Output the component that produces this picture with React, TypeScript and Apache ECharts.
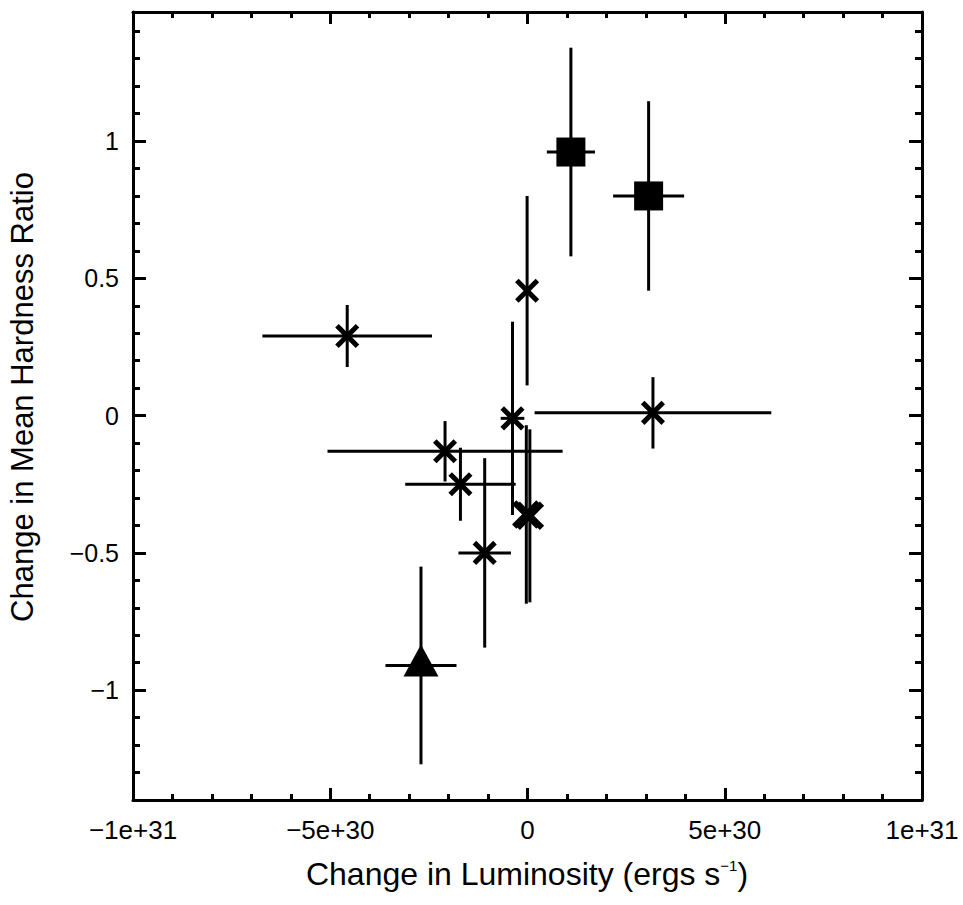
import React, { useEffect, useRef } from "react";
import * as echarts from "echarts";

// ---- data ----
const xValues = [1.1e30, 3.07e30, -0.01e30, -4.57e30, 3.18e30, -0.38e30, -2.09e30, -1.7e30, -1.085e30, -0.03e30, 0.06e30, -2.7e30];
const yValues = [0.96, 0.8, 0.455, 0.29, 0.01, -0.01, -0.13, -0.25, -0.5, -0.36, -0.365, -0.91];
const xErrors = [0.61e30, 0.9e30, 0, 2.15e30, 3.0e30, 0.3e30, 2.98e30, 1.4e30, 0.665e30, 0, 0, 0.9e30];
const yErrors = [0.38, 0.345, 0.345, 0.113, 0.13, 0.352, 0.11, 0.133, 0.345, 0.325, 0.315, 0.36];
const markerKinds = ["square", "square", "cross", "cross", "cross", "cross", "cross", "cross", "cross", "bigcross", "bigcross", "triangle"];

const xTickValues = [-1e31, -5e30, 0, 5e30, 1e31];
const xTickLabels = ["\u22121e+31", "\u22125e+30", "0", "5e+30", "1e+31"];
const yTickValues = [-1, -0.5, 0, 0.5, 1];
const yTickLabels = ["\u22121", "\u22120.5", "0", "0.5", "1"];

const X_MIN = -1e31;
const X_MAX = 1e31;
const Y_MIN = -1.4;
const Y_MAX = 1.47;

const FONT = "'Liberation Sans', Arial, Helvetica, sans-serif";

export default function App() {
  const ref = useRef<HTMLDivElement>(null);

  useEffect(() => {
    if (!ref.current) return;
    const chart = echarts.init(ref.current, null, { renderer: "svg" });

    const lineStyle = { color: "#000", width: 3 };

    const xFormatter = (v: number) => {
      const i = xTickValues.findIndex((t) => Math.abs(t - v) < 1e27);
      return i >= 0 ? xTickLabels[i] : "";
    };
    const yFormatter = (v: number) => {
      const i = yTickValues.findIndex((t) => Math.abs(t - v) < 1e-6);
      return i >= 0 ? yTickLabels[i] : "";
    };

    const xAxisBase = (position: "bottom" | "top", showLabel: boolean) => ({
      type: "value",
      position,
      min: X_MIN,
      max: X_MAX,
      interval: 5e30,
      axisLine: { show: true, onZero: false, lineStyle },
      axisTick: { show: true, inside: true, length: 12, lineStyle },
      minorTick: { show: true, splitNumber: 5, length: 6, lineStyle },
      splitLine: { show: false },
      minorSplitLine: { show: false },
      axisLabel: {
        show: showLabel,
        formatter: xFormatter,
        fontSize: 26,
        fontFamily: FONT,
        color: "#000",
        margin: 17,
      },
    });

    const yMinorAxis = (position: "left" | "right") => ({
      type: "value",
      position,
      min: Y_MIN,
      max: Y_MAX,
      interval: 0.1,
      axisLine: { show: true, onZero: false, lineStyle },
      axisTick: { show: true, inside: true, length: 7, lineStyle },
      axisLabel: { show: false },
      splitLine: { show: false },
    });

    const yMajorAxis = (position: "left" | "right", showLabel: boolean) => ({
      type: "value",
      position,
      min: Y_MIN,
      max: Y_MAX,
      axisLine: { show: false, onZero: false },
      axisTick: { show: true, inside: true, length: 13, lineStyle, customValues: yTickValues },
      axisLabel: {
        show: showLabel,
        customValues: yTickValues,
        formatter: yFormatter,
        fontSize: 25,
        fontFamily: FONT,
        color: "#000",
        margin: 14,
      },
      splitLine: { show: false },
    });

    const data = xValues.map((x, i) => [x, yValues[i], xErrors[i], yErrors[i]]);

    const renderItem = (params: any, api: any) => {
      const x = api.value(0);
      const y = api.value(1);
      const xe = api.value(2);
      const ye = api.value(3);
      const c = api.coord([x, y]);
      const children: any[] = [];
      if (ye > 0) {
        const t = api.coord([x, y + ye]);
        const b = api.coord([x, y - ye]);
        children.push({
          type: "line",
          shape: { x1: c[0], y1: t[1], x2: c[0], y2: b[1] },
          style: { stroke: "#000", lineWidth: 3 },
        });
      }
      if (xe > 0) {
        const l = api.coord([x - xe, y]);
        const r = api.coord([x + xe, y]);
        children.push({
          type: "line",
          shape: { x1: l[0], y1: c[1], x2: r[0], y2: c[1] },
          style: { stroke: "#000", lineWidth: 3 },
        });
      }
      const kind = markerKinds[params.dataIndex];
      if (kind === "square") {
        children.push({
          type: "rect",
          shape: { x: c[0] - 14.5, y: c[1] - 14.5, width: 29, height: 29 },
          style: { fill: "#000" },
        });
      } else if (kind === "triangle") {
        children.push({
          type: "polygon",
          shape: {
            points: [
              [c[0], c[1] - 21],
              [c[0] - 17.5, c[1] + 11],
              [c[0] + 17.5, c[1] + 11],
            ],
          },
          style: { fill: "#000" },
        });
      } else {
        const h = kind === "bigcross" ? 10 : 8.5;
        const w = kind === "bigcross" ? 6 : 5;
        children.push({
          type: "line",
          shape: { x1: c[0] - h, y1: c[1] - h, x2: c[0] + h, y2: c[1] + h },
          style: { stroke: "#000", lineWidth: w, lineCap: "square" },
        });
        children.push({
          type: "line",
          shape: { x1: c[0] - h, y1: c[1] + h, x2: c[0] + h, y2: c[1] - h },
          style: { stroke: "#000", lineWidth: w, lineCap: "square" },
        });
      }
      return { type: "group", children };
    };

    chart.setOption({
      animation: false,
      backgroundColor: "#fff",
      grid: { left: 133, right: 41, top: 12, bottom: 105, containLabel: false },
      xAxis: [xAxisBase("bottom", true), xAxisBase("top", false)],
      yAxis: [yMinorAxis("left"), yMajorAxis("left", true), yMinorAxis("right"), yMajorAxis("right", false)],
      series: [
        {
          type: "custom",
          xAxisIndex: 0,
          yAxisIndex: 0,
          clip: false,
          renderItem,
          encode: { x: 0, y: 1 },
          data,
        },
      ],
      graphic: [
        {
          type: "text",
          x: 527,
          y: 874,
          style: {
            text: "Change in Luminosity (ergs s{sup|\u22121})",
            fontSize: 32,
            fontFamily: FONT,
            fill: "#000",
            align: "center",
            verticalAlign: "middle",
            rich: {
              sup: { fontSize: 15, fontFamily: FONT, fill: "#000", verticalAlign: "top", padding: [0, 0, 15, 0] },
            },
          },
        },
        {
          type: "text",
          x: 22,
          y: 397,
          rotation: Math.PI / 2,
          style: {
            text: "Change in Mean Hardness Ratio",
            fontSize: 31,
            fontFamily: FONT,
            fill: "#000",
            align: "center",
            verticalAlign: "middle",
          },
        },
      ],
    });

    return () => chart.dispose();
  }, []);

  return (
    <div
      ref={ref}
      style={{ position: "fixed", left: 0, top: 0, width: 963, height: 905, background: "#fff" }}
    />
  );
}
